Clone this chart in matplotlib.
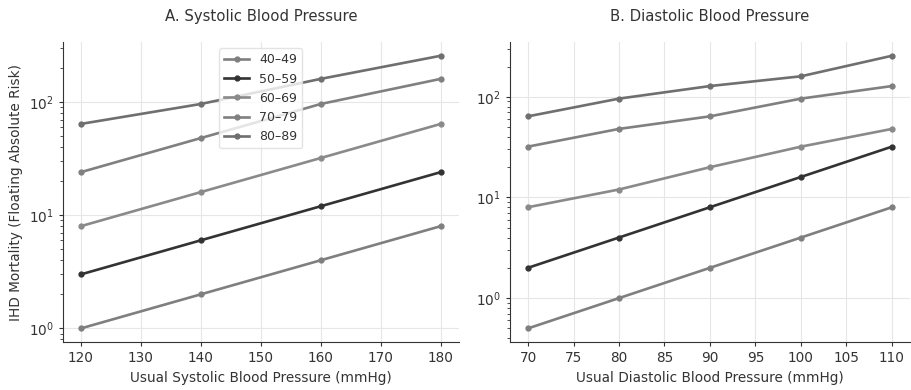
import numpy as np
import matplotlib.pyplot as plt

plt.rcParams['text.color'] = '#333333'
plt.rcParams['axes.labelcolor'] = '#333333'
plt.rcParams['xtick.color'] = '#333333'
plt.rcParams['ytick.color'] = '#333333'
plt.rcParams['axes.edgecolor'] = '#333333'

age_groups = ['40–49', '50–59', '60–69', '70–79', '80–89']
colors = ['#7f7f7f', '#333333', '#8a8a8a', '#808080', '#6f6f6f']

sbp = [120, 140, 160, 180]
sbp_risk = [
    [1, 2, 4, 8],
    [3, 6, 12, 24],
    [8, 16, 32, 64],
    [24, 48, 96, 160],
    [64, 96, 160, 256],
]

dbp = [70, 80, 90, 100, 110]
dbp_risk = [
    [0.5, 1, 2, 4, 8],
    [2, 4, 8, 16, 32],
    [8, 12, 20, 32, 48],
    [32, 48, 64, 96, 128],
    [64, 96, 128, 160, 256],
]

fig = plt.figure(figsize=(9.12, 3.9), dpi=100)
ax1 = fig.add_axes([0.069, 0.123, 0.434, 0.769])
ax2 = fig.add_axes([0.559, 0.123, 0.439, 0.769])

for ax, x, data in [(ax1, sbp, sbp_risk), (ax2, dbp, dbp_risk)]:
    for lab, c, y in zip(age_groups, colors, data):
        ax.plot(x, y, color=c, lw=1.9, marker='o', ms=3.5, label=lab)
    ax.set_yscale('log')
    ax.grid(True, which='major', color='#e6e6e6', lw=0.8)
    ax.set_axisbelow(True)
    ax.spines['top'].set_visible(False)
    ax.spines['right'].set_visible(False)
    ax.tick_params(labelsize=9.8, length=3)

ax1.set_title('A. Systolic Blood Pressure', fontsize=10.7, pad=15)
ax2.set_title('B. Diastolic Blood Pressure', fontsize=10.7, pad=15)
ax1.set_xlabel('Usual Systolic Blood Pressure (mmHg)', fontsize=9.8)
ax2.set_xlabel('Usual Diastolic Blood Pressure (mmHg)', fontsize=9.8)
ax1.set_ylabel('IHD Mortality (Floating Absolute Risk)', fontsize=9.8)
ax2.set_xticks(np.arange(70, 111, 5))

ax1.legend(loc='upper center', fontsize=9, framealpha=0.8, edgecolor='#dddddd')

fig.savefig('out.png', dpi=100)
